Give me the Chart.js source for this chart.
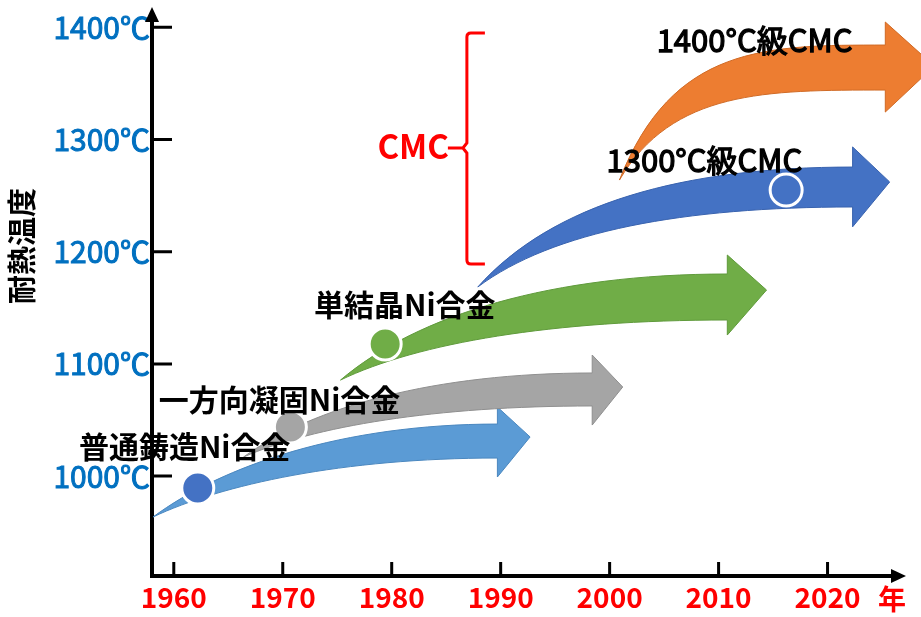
<!DOCTYPE html>
<html>
<head>
<meta charset="utf-8">
<script src="https://cdn.jsdelivr.net/npm/chart.js@4.4.1/dist/chart.umd.min.js"></script>
<style>
  html, body { margin: 0; padding: 0; background: #fff; }
  #chart { display: block; }
</style>
</head>
<body>
<canvas id="chart" width="921" height="617"></canvas>
<script>
// axes
var yearTicks = [1960, 1970, 1980, 1990, 2000, 2010, 2020];
var tempTicks = [1000, 1100, 1200, 1300, 1400];

// development arrows, tail -> head (year, degC)
var arrowNames = ['普通鋳造Ni合金', '一方向凝固Ni合金', '単結晶Ni合金', '1300°C級CMC', '1400°C級CMC'];
var tailYear = [1958.1, 1966.4, 1975.3, 1987.9, 2000.9];
var tailTemp = [963.6, 1017.0, 1085.6, 1168.5, 1263.8];
var headYear = [1989.7, 1998.4, 2010.8, 2022.3, 2025.3];
var upperTemp = [1046.4, 1091.9, 1180.1, 1275.4, 1384.1];
var lowerTemp = [1016.1, 1062.5, 1139.1, 1239.8, 1344.0];
var headTopTemp = [1061.6, 1107.9, 1197.0, 1293.3, 1404.6];
var headBottomTemp = [999.2, 1045.5, 1125.7, 1222.1, 1324.4];
var tipYear = [1992.7, 2001.2, 2014.4, 2025.7, 2029.8];
var tipTemp = [1034.9, 1079.4, 1165.8, 1262.1, 1365.4];

// milestone circles
var milestoneYear = [1962.2, 1970.7, 1979.4, 2016.2];
var milestoneTemp = [989.4, 1043.8, 1117.7, 1254.9];

// where the arrow names sit (text centre)
var labelYear = [1961.0, 1969.7, 1981.2, 2008.7, 2013.3];
var labelTemp = [1025.9, 1067.8, 1152.5, 1281.7, 1388.6];

// CMC bracket
var cmcYear = 1986.9;
var cmcTemp = [1189.0, 1292.4, 1394.8];

// styles
var FONT = "'Noto Sans CJK JP', 'Noto Sans', sans-serif";
var arrowColors = ['#5B9BD5', '#A5A5A5', '#70AD47', '#4472C4', '#ED7D31'];
var arrowEdges = ['#4A87BF', '#8F8F8F', '#5F9A3B', '#3862AE', '#D06A25'];
var arrowBend = [0.55, 0.6, 0.62, 0.7, 1.0];
var milestoneColors = ['#4472C4', '#A5A5A5', '#70AD47', '#4472C4'];

Chart.defaults.font.family = FONT;

var axesPlugin = {
  id: 'axesArrows',
  beforeDatasetsDraw: function(chart) {
    var ctx = chart.ctx;
    var a = chart.chartArea;
    var xs = chart.scales.x, ys = chart.scales.y;
    ctx.save();
    ctx.strokeStyle = '#000';
    ctx.fillStyle = '#000';
    ctx.lineWidth = 4;
    ctx.beginPath();
    ctx.moveTo(a.left, a.bottom + 2);
    ctx.lineTo(a.left, a.top + 12);
    ctx.moveTo(a.left - 2, a.bottom);
    ctx.lineTo(a.right - 12, a.bottom);
    ctx.stroke();
    // arrow heads
    ctx.beginPath();
    ctx.moveTo(a.left, a.top);
    ctx.lineTo(a.left - 7, a.top + 15);
    ctx.lineTo(a.left + 7, a.top + 15);
    ctx.closePath();
    ctx.fill();
    ctx.beginPath();
    ctx.moveTo(a.right, a.bottom);
    ctx.lineTo(a.right - 15, a.bottom - 7);
    ctx.lineTo(a.right - 15, a.bottom + 7);
    ctx.closePath();
    ctx.fill();
    // tick marks, pointing inward
    ctx.lineWidth = 3;
    ctx.beginPath();
    tempTicks.forEach(function(t) {
      var y = ys.getPixelForValue(t);
      ctx.moveTo(a.left, y);
      ctx.lineTo(a.left + 20, y);
    });
    yearTicks.forEach(function(yr) {
      var x = xs.getPixelForValue(yr);
      ctx.moveTo(x, a.bottom);
      ctx.lineTo(x, a.bottom - 14);
    });
    ctx.stroke();
    ctx.restore();
  }
};

var arrowPlugin = {
  id: 'devArrows',
  beforeDatasetsDraw: function(chart) {
    var ctx = chart.ctx;
    var xs = chart.scales.x, ys = chart.scales.y;
    for (var i = 0; i < tailYear.length; i++) {
      var x0 = xs.getPixelForValue(tailYear[i]);
      var y0 = ys.getPixelForValue(tailTemp[i]);
      var xb = xs.getPixelForValue(headYear[i]);
      var yu = ys.getPixelForValue(upperTemp[i]);
      var yl = ys.getPixelForValue(lowerTemp[i]);
      var yht = ys.getPixelForValue(headTopTemp[i]);
      var yhb = ys.getPixelForValue(headBottomTemp[i]);
      var xt = xs.getPixelForValue(tipYear[i]);
      var yt = ys.getPixelForValue(tipTemp[i]);
      var dx = xb - x0;
      var b = arrowBend[i];

      ctx.save();
      ctx.beginPath();
      ctx.moveTo(x0, y0);
      ctx.bezierCurveTo(x0 + 0.2 * dx, y0 + b * (yu - y0), x0 + 0.55 * dx, yu, xb, yu);
      ctx.lineTo(xb, yht);
      ctx.lineTo(xt, yt);
      ctx.lineTo(xb, yhb);
      ctx.lineTo(xb, yl);
      ctx.bezierCurveTo(x0 + 0.55 * dx, yl, x0 + 0.2 * dx, y0 + b * (yl - y0), x0, y0);
      ctx.closePath();
      ctx.fillStyle = arrowColors[i];
      ctx.fill();
      ctx.lineWidth = 1;
      ctx.strokeStyle = arrowEdges[i];
      ctx.stroke();
      ctx.restore();
    }
  }
};

var labelPlugin = {
  id: 'labels',
  afterDatasetsDraw: function(chart) {
    var ctx = chart.ctx;
    var a = chart.chartArea;
    var xs = chart.scales.x, ys = chart.scales.y;
    ctx.save();
    ctx.textAlign = 'center';
    ctx.textBaseline = 'middle';
    ctx.fillStyle = '#000';
    ctx.strokeStyle = '#000';
    arrowNames.forEach(function(name, i) {
      var x = xs.getPixelForValue(labelYear[i]);
      var y = ys.getPixelForValue(labelTemp[i]);
      if (i < 3) {
        ctx.font = 'bold 30px ' + FONT;
        ctx.fillText(name, x, y);
      } else {
        // medium weight: regular face thickened by a thin stroke
        ctx.font = '31px ' + FONT;
        ctx.lineWidth = 1.3;
        ctx.fillText(name, x, y);
        ctx.strokeText(name, x, y);
      }
    });

    // CMC bracket
    var bx = xs.getPixelForValue(cmcYear);
    var yTop = ys.getPixelForValue(cmcTemp[2]);
    var yMid = ys.getPixelForValue(cmcTemp[1]);
    var yBot = ys.getPixelForValue(cmcTemp[0]);
    ctx.strokeStyle = '#FF0000';
    ctx.lineWidth = 3;
    ctx.beginPath();
    ctx.moveTo(bx + 18, yTop);
    ctx.lineTo(bx + 4, yTop);
    ctx.quadraticCurveTo(bx, yTop, bx, yTop + 4);
    ctx.lineTo(bx, yMid - 5);
    ctx.lineTo(bx - 4, yMid);
    ctx.lineTo(bx, yMid + 5);
    ctx.lineTo(bx, yBot - 4);
    ctx.quadraticCurveTo(bx, yBot, bx + 4, yBot);
    ctx.lineTo(bx + 18, yBot);
    ctx.moveTo(bx - 4, yMid);
    ctx.lineTo(bx - 19, yMid);
    ctx.stroke();
    ctx.fillStyle = '#FF0000';
    ctx.font = 'bold 33px ' + FONT;
    ctx.textAlign = 'right';
    ctx.fillText('CMC', bx - 18, yMid - 2);

    // axis unit and title
    ctx.textAlign = 'center';
    ctx.font = 'bold 28px ' + FONT;
    ctx.fillText('年', a.right - 14, a.bottom + 23);

    ctx.fillStyle = '#000';
    ctx.font = 'bold 29px ' + FONT;
    ctx.translate(22, ys.getPixelForValue(1205));
    ctx.rotate(-Math.PI / 2);
    ctx.fillText('耐熱温度', 0, 0);
    ctx.restore();
  }
};

new Chart(document.getElementById('chart'), {
  type: 'scatter',
  data: {
    datasets: [{
      data: milestoneYear.map(function(yr, i) { return {x: yr, y: milestoneTemp[i]}; }),
      pointRadius: 16,
      pointHoverRadius: 16,
      pointBackgroundColor: milestoneColors,
      pointBorderColor: '#ffffff',
      pointBorderWidth: 3
    }]
  },
  options: {
    responsive: false,
    animation: false,
    layout: {
      autoPadding: false,
      padding: { top: 7, right: 15, left: 0, bottom: 0 }
    },
    plugins: {
      legend: { display: false },
      tooltip: { enabled: false }
    },
    scales: {
      x: {
        type: 'linear',
        min: 1958,
        max: 2027.2,
        afterBuildTicks: function(scale) {
          scale.ticks = yearTicks.map(function(v) { return {value: v}; });
        },
        afterFit: function(scale) {
          scale.height = 41;
          scale.paddingLeft = 0;
          scale.paddingRight = 0;
        },
        grid: { display: false, drawTicks: false },
        border: { display: false },
        ticks: {
          color: '#FF0000',
          font: { size: 28, weight: 'bold' },
          padding: 5,
          maxRotation: 0,
          autoSkip: false,
          callback: function(v) { return String(v); }
        }
      },
      y: {
        type: 'linear',
        min: 911,
        max: 1418,
        afterBuildTicks: function(scale) {
          scale.ticks = tempTicks.map(function(v) { return {value: v}; });
        },
        afterFit: function(scale) {
          scale.width = 152;
          scale.paddingTop = 0;
          scale.paddingBottom = 0;
        },
        grid: { display: false, drawTicks: false },
        border: { display: false },
        ticks: {
          color: '#0070C0',
          font: { size: 30 },
          textStrokeColor: '#0070C0',
          textStrokeWidth: 1,
          padding: 2,
          autoSkip: false,
          callback: function(v) { return v + '℃'; }
        }
      }
    }
  },
  plugins: [axesPlugin, arrowPlugin, labelPlugin]
});
</script>
</body>
</html>
